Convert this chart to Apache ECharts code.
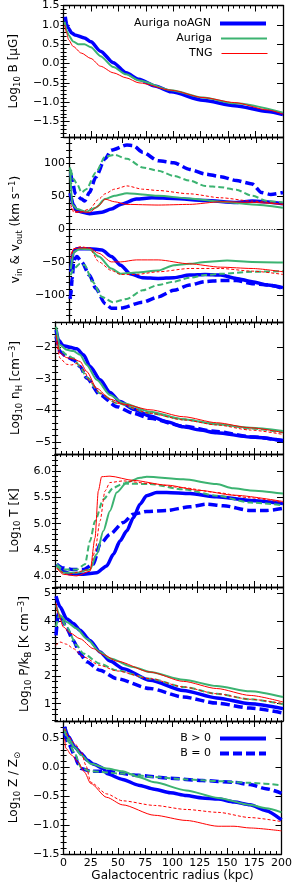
<!DOCTYPE html>
<html><head><meta charset="utf-8">
<script src="https://cdn.jsdelivr.net/npm/echarts@6/dist/echarts.min.js"></script>
<style>html,body{margin:0;padding:0;background:#fff}#c{width:295px;height:885px}</style>
</head><body><div id="c"></div>
<script>
// ---------- x axis ----------
const radiusTicks = [0, 25, 50, 75, 100, 125, 150, 175, 200];

// ---------- panel 1: magnetic field ----------
const bTicks = [-1.5, -1.0, -0.5, 0.0, 0.5, 1.0, 1.5];
const bNoAGN = [[1.5,1.21],[2.9,1.0],[4.4,0.91],[7.3,0.79],[10.2,0.74],[19,0.66],[24.9,0.56],[33.6,0.32],[45.3,0.02],[57,-0.24],[68.7,-0.41],[83.3,-0.58],[98,-0.73],[127,-0.95],[156,-1.09],[186,-1.24],[200,-1.32]];
const bAuriga = [[0.9,1.08],[2.9,0.85],[4.4,0.74],[8.8,0.57],[13.2,0.5],[19,0.5],[24.9,0.42],[33.6,0.19],[45.3,-0.09],[57,-0.28],[68.7,-0.44],[98,-0.69],[127,-0.88],[156,-1.03],[200,-1.27]];
const bTNG = [[0.9,1.0],[2.9,0.78],[4.4,0.62],[8.8,0.44],[16.1,0.27],[24.9,0.13],[33.6,-0.07],[45.3,-0.24],[57,-0.37],[68.7,-0.5],[98,-0.69],[127,-0.88],[156,-1.01],[186,-1.2],[200,-1.31]];

// ---------- panel 2: inflow / outflow velocities ----------
const vTicks = [-100, -50, 0, 50, 100];
const voutNoAGN = [[0.9,55],[1.5,50],[3.8,38],[7.3,28],[19,24],[30.7,26],[39.5,31],[48.2,38],[62.9,46],[77.5,48],[98,47],[127.2,44],[156.4,41],[171.1,43],[200,39]];
const voutNoAGN0 = [[1.5,85],[2.9,74],[5.8,54],[11.7,46],[14.6,43],[19,56],[24.9,79],[33.6,107],[39.5,120],[54.1,128],[59.9,127],[68.7,117],[83.3,104],[98,101],[112.6,91],[127.2,84],[141.8,80],[156.4,74],[171.1,69],[179.8,56],[188.6,53],[200,56]];
const voutAuriga = [[0.9,94],[2.9,38],[7.3,31],[16.1,27],[24.9,33],[33.6,46],[42.4,51],[54.1,55],[68.7,53],[83.3,51],[112.6,47],[141.8,42],[171.1,38],[200,33]];
const voutAuriga0 = [[1.5,91],[4.4,76],[7.3,69],[11.7,56],[16.1,61],[24.9,86],[33.6,110],[42.4,113],[54.1,107],[68.7,94],[83.3,89],[98,81],[112.6,74],[127.2,66],[141.8,64],[156.4,60],[171.1,51],[185.7,43],[200,41]];
const voutTNG = [[1.5,33],[7.3,27],[19,26],[27.8,36],[33.6,46],[42.4,42],[54.1,38],[83.3,37],[112.6,38],[141.8,42],[171.1,41],[200,38]];
const voutTNG0 = [[1.5,38],[4.4,26],[10.2,26],[19,31],[27.8,46],[33.6,54],[42.4,61],[54.1,66],[68.7,61],[83.3,59],[112.6,54],[141.8,48],[171.1,43],[200,38]];
const vinNoAGN = [[1.5,-64],[3.8,-34],[7.3,-29],[19,-29],[30.7,-31],[39.5,-41],[48.2,-54],[57,-67],[68.7,-73],[83.3,-74],[98,-73],[112.6,-69],[127.2,-68],[141.8,-69],[156.4,-74],[171.1,-79],[185.7,-84],[200,-88]];
const vinNoAGN0 = [[0.9,-105],[1.5,-100],[2.9,-74],[4.4,-46],[7.3,-41],[11.7,-49],[19,-69],[24.9,-89],[33.6,-112],[39.5,-119],[48.2,-119],[68.7,-110],[83.3,-102],[98,-92],[112.6,-84],[127.2,-79],[141.8,-77],[156.4,-77],[171.1,-82],[185.7,-84],[200,-89]];
const vinAuriga = [[1.5,-60],[4.4,-34],[10.2,-29],[19,-30],[27.8,-41],[39.5,-59],[48.2,-67],[62.9,-65],[83.3,-62],[98,-54],[112.6,-52],[127.2,-49],[147.7,-47],[171.1,-49],[200,-50]];
const vinAuriga0 = [[1.5,-69],[4.4,-59],[10.2,-52],[14.6,-54],[21.9,-79],[30.7,-102],[40.9,-110],[54.1,-105],[68.7,-92],[83.3,-84],[98,-79],[112.6,-73],[127.2,-69],[141.8,-67],[171.1,-64],[200,-63]];
const vinTNG = [[1.5,-39],[4.4,-29],[10.2,-28],[19,-28],[27.8,-36],[39.5,-49],[48.2,-49],[62.9,-46],[83.3,-46],[112.6,-52],[141.8,-57],[171.1,-59],[200,-64]];
const vinTNG0 = [[1.5,-44],[4.4,-29],[10.2,-26],[19,-28],[27.8,-49],[39.5,-62],[48.2,-68],[62.9,-68],[83.3,-64],[112.6,-59],[141.8,-59],[171.1,-63],[200,-68]];

// ---------- panel 3: density ----------
const nTicks = [-5, -4, -3, -2];
const nNoAGN = [[0.9,-1.45],[2.9,-1.77],[7.3,-1.95],[13.2,-2.0],[19,-2.05],[24.9,-2.24],[30.7,-2.61],[39.5,-3.03],[48.2,-3.43],[57,-3.72],[68.7,-3.96],[83.3,-4.18],[98,-4.36],[112.6,-4.52],[127.2,-4.62],[141.8,-4.71],[171.1,-4.84],[200,-4.95]];
const nNoAGN0 = [[0.9,-1.66],[4.4,-2.14],[10.2,-2.3],[16.1,-2.4],[21.9,-2.61],[27.8,-2.98],[39.5,-3.51],[54.1,-3.88],[68.7,-4.09],[83.3,-4.25],[112.6,-4.5],[141.8,-4.67],[171.1,-4.83],[200,-4.96]];
const nAuriga = [[0.9,-1.35],[4.4,-1.93],[10.2,-2.08],[16.1,-2.12],[21.9,-2.24],[27.8,-2.56],[36.5,-3.03],[48.2,-3.51],[59.9,-3.77],[83.3,-4.04],[112.6,-4.28],[141.8,-4.44],[171.1,-4.55],[200,-4.65]];
const nAuriga0 = [[0.9,-1.61],[4.4,-2.08],[10.2,-2.24],[16.1,-2.35],[21.9,-2.61],[27.8,-2.96],[39.5,-3.46],[54.1,-3.77],[83.3,-4.09],[112.6,-4.28],[141.8,-4.43],[171.1,-4.57],[200,-4.7]];
const nTNG = [[0.9,-1.61],[4.4,-2.19],[10.2,-2.33],[16.1,-2.37],[21.9,-2.45],[27.8,-2.77],[36.5,-3.3],[48.2,-3.64],[59.9,-3.8],[83.3,-3.98],[112.6,-4.2],[141.8,-4.39],[171.1,-4.55],[200,-4.7]];
const nTNG0 = [[0.9,-1.82],[4.4,-2.35],[10.2,-2.54],[14.6,-2.56],[19,-2.51],[24.9,-2.72],[30.7,-3.09],[39.5,-3.46],[54.1,-3.77],[83.3,-4.09],[112.6,-4.3],[141.8,-4.46],[171.1,-4.62],[200,-4.76]];

// ---------- panel 4: temperature ----------
const tTicks = [4.0, 4.5, 5.0, 5.5, 6.0];
const tNoAGN = [[1.5,4.23],[7.3,4.1],[13.2,4.05],[24.9,4.04],[36.5,4.07],[45.3,4.2],[51.2,4.42],[57,4.67],[62.9,4.86],[68.7,5.11],[74.6,5.37],[80.4,5.53],[89.2,5.59],[98,5.59],[118.4,5.57],[141.8,5.51],[171.1,5.44],[200,5.38]];
const tNoAGN0 = [[1.5,4.23],[7.3,4.16],[16.1,4.13],[24.9,4.13],[33.6,4.23],[39.5,4.61],[48.2,4.8],[59.9,5.02],[68.7,5.18],[80.4,5.23],[98,5.25],[118.4,5.32],[133,5.37],[147.7,5.34],[171.1,5.25],[185.7,5.25],[200,5.29]];
const tAuriga = [[1.5,4.2],[7.3,4.07],[19,4.07],[30.7,4.13],[36.5,4.42],[42.4,4.86],[48.2,5.24],[54.1,5.59],[62.9,5.78],[74.6,5.87],[80.4,5.89],[112.6,5.84],[141.8,5.75],[156.4,5.67],[171.1,5.63],[200,5.57]];
const tAuriga0 = [[1.5,4.23],[7.3,4.13],[19,4.13],[26.3,4.23],[30.7,4.67],[35.1,5.05],[42.4,5.46],[51.2,5.68],[59.9,5.76],[83.3,5.75],[112.6,5.65],[141.8,5.53],[171.1,5.4],[200,5.35]];
const tTNG = [[1.5,4.16],[7.3,4.04],[19,4.01],[30.7,4.1],[35.1,4.73],[38,5.62],[40.9,5.89],[48.2,5.9],[68.7,5.82],[98,5.73],[127.2,5.63],[156.4,5.54],[200,5.42]];
const tTNG0 = [[1.5,4.16],[10.2,4.04],[30.7,4.13],[35.1,4.48],[39.5,5.05],[43.9,5.62],[48.2,5.78],[59.9,5.81],[83.3,5.76],[112.6,5.68],[141.8,5.59],[171.1,5.49],[200,5.4]];

// ---------- panel 5: pressure ----------
const pTicks = [1, 2, 3, 4, 5];
const pNoAGN = [[0.9,4.9],[4.4,4.52],[10.2,4.09],[16.1,3.91],[21.9,3.67],[30.7,3.3],[39.5,2.88],[48.2,2.55],[59.9,2.27],[83.3,1.85],[112.6,1.48],[141.8,1.21],[171.1,1.0],[200,0.82]];
const pNoAGN0 = [[0.9,3.48],[2.9,4.27],[5.8,4.09],[10.2,3.73],[16.1,3.3],[21.9,2.82],[27.8,2.52],[39.5,2.21],[54.1,1.91],[83.3,1.55],[112.6,1.24],[141.8,1.02],[171.1,0.84],[200,0.66]];
const pAuriga = [[0.9,4.58],[4.4,4.21],[10.2,3.97],[19,3.73],[27.8,3.36],[39.5,2.88],[48.2,2.64],[68.7,2.33],[83.3,2.15],[112.6,1.87],[141.8,1.64],[171.1,1.45],[200,1.24]];
const pAuriga0 = [[0.9,3.79],[3.8,4.21],[10.2,3.79],[19,3.12],[24.9,2.82],[39.5,2.45],[54.1,2.21],[83.3,1.91],[112.6,1.61],[141.8,1.36],[171.1,1.16],[200,0.98]];
const pTNG = [[0.9,4.64],[2.9,4.27],[7.3,3.79],[13.2,3.57],[21.9,3.36],[33.6,3.0],[42.4,2.78],[54.1,2.55],[83.3,2.15],[112.6,1.81],[141.8,1.55],[171.1,1.3],[200,1.06]];
const pTNG0 = [[0.9,3.12],[4.4,3.24],[10.2,3.16],[16.1,3.0],[24.9,2.7],[39.5,2.39],[54.1,2.19],[83.3,1.91],[112.6,1.61],[141.8,1.36],[171.1,1.16],[200,1.0]];

// ---------- panel 6: metallicity ----------
const zTicks = [-1.5, -1.0, -0.5, 0.0, 0.5];
const zNoAGN = [[0.9,0.7],[4.4,0.53],[10.2,0.35],[16.1,0.24],[21.9,0.12],[27.8,0.05],[36.5,-0.02],[39.5,-0.11],[54.1,-0.21],[68.7,-0.31],[83.3,-0.38],[98,-0.44],[112.6,-0.49],[127.2,-0.53],[141.8,-0.55],[156.4,-0.6],[171.1,-0.65],[185.7,-0.75],[200,-0.91]];
const zNoAGN0 = [[0.9,0.59],[4.4,0.41],[10.2,0.21],[13.2,0.06],[16.1,-0.02],[24.9,-0.07],[39.5,-0.07],[68.7,-0.14],[98,-0.19],[127.2,-0.23],[156.4,-0.26],[171.1,-0.3],[185.7,-0.37],[200,-0.45]];
const zAuriga = [[0.9,0.67],[4.4,0.5],[10.2,0.34],[16.1,0.21],[24.9,0.06],[39.5,-0.02],[54.1,-0.07],[68.7,-0.17],[83.3,-0.26],[112.6,-0.4],[141.8,-0.53],[171.1,-0.65],[185.7,-0.71],[200,-0.78]];
const zAuriga0 = [[0.9,0.64],[4.4,0.44],[10.2,0.24],[16.1,-0.01],[24.9,-0.07],[54.1,-0.11],[83.3,-0.17],[112.6,-0.21],[141.8,-0.24],[171.1,-0.27],[200,-0.31]];
const zTNG = [[0.9,0.5],[2,0.33],[7.3,0.21],[13.2,0.09],[19,-0.08],[24.9,-0.28],[39.5,-0.52],[54.1,-0.65],[83.3,-0.83],[112.6,-0.92],[141.8,-1.02],[156.4,-1.02],[171.1,-1.05],[200,-1.1]];
const zTNG0 = [[0.9,0.67],[4.4,0.53],[10.2,0.41],[16.1,0.27],[20.5,0.03],[24.9,-0.26],[39.5,-0.46],[54.1,-0.58],[83.3,-0.66],[112.6,-0.73],[141.8,-0.78],[171.1,-0.87],[200,-0.94]];

// ---------- layout / styling ----------
const FONT = 'DejaVu Sans';
const panels = [
  {top:5,   height:132, min:-1.9,  max:1.5,  ticks:bTicks, minor:0.1, dec:1, nameGap:36,
   name:'{m|Log}{s|10}{m| B [μG]}'},
  {top:137, height:185, min:-140,  max:140,  ticks:vTicks, minor:10,  dec:0, nameGap:40,
   name:'{m|v}{s|in}{m| & v}{s|out}{m| (km s}{p|−1}{m|)}'},
  {top:322, height:132, min:-5.38, max:-1.2, ticks:nTicks, minor:0.2, dec:0, nameGap:26,
   name:'{m|Log}{s|10}{m| n}{s|H}{m| [cm}{p|−3}{m|]}'},
  {top:454, height:133, min:3.8,   max:6.32, ticks:tTicks, minor:0.1, dec:1, nameGap:26,
   name:'{m|Log}{s|10}{m| T [K]}'},
  {top:587, height:134, min:0.37,  max:5.24, ticks:pTicks, minor:0.2, dec:0, nameGap:16,
   name:'{m|Log}{s|10}{m| P/k}{s|B}{m| [K cm}{p|−3}{m|]}'},
  {top:721, height:133, min:-1.5,  max:0.8,  ticks:zTicks, minor:0.1, dec:1, nameGap:36,
   name:'{m|Log}{s|10}{m| Z / Z}{s|⊙}'}
];
const COL = {noagn:'#0000ff', auriga:'#3cb371', tng:'#ff0000'};
const WID = {noagn:3.5, auriga:2, tng:1};
const DASH = {noagn:[9,4], auriga:[6,3], tng:[3,2]};

const seriesDefs = [
  // panel, data, model, dashed, name
  [0, bNoAGN, 'noagn', false, 'Auriga noAGN'],
  [0, bAuriga, 'auriga', false, 'Auriga'],
  [0, bTNG, 'tng', false, 'TNG'],
  [1, voutNoAGN, 'noagn', false], [1, voutNoAGN0, 'noagn', true],
  [1, vinNoAGN, 'noagn', false], [1, vinNoAGN0, 'noagn', true],
  [1, voutAuriga, 'auriga', false], [1, voutAuriga0, 'auriga', true],
  [1, vinAuriga, 'auriga', false], [1, vinAuriga0, 'auriga', true],
  [1, voutTNG, 'tng', false], [1, voutTNG0, 'tng', true],
  [1, vinTNG, 'tng', false], [1, vinTNG0, 'tng', true],
  [2, nNoAGN, 'noagn', false], [2, nNoAGN0, 'noagn', true],
  [2, nAuriga, 'auriga', false], [2, nAuriga0, 'auriga', true],
  [2, nTNG, 'tng', false], [2, nTNG0, 'tng', true],
  [3, tNoAGN, 'noagn', false], [3, tNoAGN0, 'noagn', true],
  [3, tAuriga, 'auriga', false], [3, tAuriga0, 'auriga', true],
  [3, tTNG, 'tng', false], [3, tTNG0, 'tng', true],
  [4, pNoAGN, 'noagn', false], [4, pNoAGN0, 'noagn', true],
  [4, pAuriga, 'auriga', false], [4, pAuriga0, 'auriga', true],
  [4, pTNG, 'tng', false], [4, pTNG0, 'tng', true],
  [5, zNoAGN, 'noagn', false, 'B > 0'], [5, zNoAGN0, 'noagn', true, 'B = 0'],
  [5, zAuriga, 'auriga', false], [5, zAuriga0, 'auriga', true],
  [5, zTNG, 'tng', false], [5, zTNG0, 'tng', true]
];

function fmt(v, dec) {
  const s = Number(v).toFixed(dec);
  return s.replace('-', '\u2212');
}
function minorList(p) {
  const out = [];
  const n = Math.round((p.max - p.min) / p.minor) + 2;
  const start = Math.ceil(p.min / p.minor - 1e-6);
  for (let k = start; k <= start + n; k++) {
    const v = +(k * p.minor).toFixed(4);
    if (v >= p.min - 1e-9 && v <= p.max + 1e-9) out.push(v);
  }
  return out;
}

const grids = [], xAxes = [], yAxes = [];
const axisLineStyle = {color:'#000', width:1.3};
panels.forEach((p, i) => {
  grids.push({left:55, right:12, top:p.top, height:p.height});
  const last = i === panels.length - 1;
  ['bottom', 'top'].forEach(pos => {
    xAxes.push({
      gridIndex:i, type:'value', min:0, max:200, interval:25, position:pos,
      axisLine:{show:true, onZero:false, lineStyle:axisLineStyle},
      axisTick:{show:true, inside:true, length:6, lineStyle:{color:'#000', width:1}},
      minorTick:{show:true, splitNumber:5, length:3, lineStyle:{color:'#000', width:1}},
      splitLine:{show:false}, minorSplitLine:{show:false},
      axisLabel:{show: last && pos === 'bottom', margin:4, fontSize:11, color:'#000', fontFamily:FONT,
        customValues: radiusTicks},
      name: (last && pos === 'bottom') ? 'Galactocentric radius (kpc)' : '',
      nameLocation:'middle', nameGap:16,
      nameTextStyle:{fontSize:12, color:'#000', fontFamily:FONT}
    });
  });
  const minors = minorList(p);
  ['left', 'right'].forEach(pos => {
    yAxes.push({
      gridIndex:i, type:'value', min:p.min, max:p.max, position:pos,
      axisLine:{show:true, onZero:false, lineStyle:axisLineStyle},
      axisTick:{show:true, inside:true, length:6, customValues:p.ticks, lineStyle:{color:'#000', width:1}},
      splitLine:{show:false},
      axisLabel:{show: pos === 'left', customValues:p.ticks, margin:4, fontSize:11, color:'#000',
        fontFamily:FONT, formatter: v => fmt(v, p.dec)},
      name: pos === 'left' ? p.name : '',
      nameLocation:'middle', nameRotate:90, nameGap:p.nameGap,
      nameTextStyle:{color:'#000', fontFamily:FONT, rich:{
        m:{fontSize:12, lineHeight:16, fontFamily:FONT, color:'#000'},
        s:{fontSize:8.5, lineHeight:8.5, verticalAlign:'bottom', fontFamily:FONT, color:'#000'},
        p:{fontSize:8.5, lineHeight:8.5, verticalAlign:'top', fontFamily:FONT, color:'#000'}
      }}
    });
    yAxes.push({
      gridIndex:i, type:'value', min:p.min, max:p.max, position:pos,
      axisLine:{show:false},
      axisTick:{show:true, inside:true, length:3, customValues:minors, lineStyle:{color:'#000', width:1}},
      splitLine:{show:false}, axisLabel:{show:false}
    });
  });
});

const series = seriesDefs.map((d, k) => {
  const [pi, data, model, dashed, name] = d;
  return {
    type:'line', name: name || ('s' + k), data: data,
    xAxisIndex: pi * 2, yAxisIndex: pi * 4,
    symbol:'none', silent:true, animation:false,
    smooth:0.25, smoothMonotone:'x',
    z: model === 'noagn' ? 2 : (model === 'auriga' ? 3 : 4),
    lineStyle:{color:COL[model], width:WID[model], type: dashed ? DASH[model] : 'solid'},
    itemStyle:{color:COL[model]}
  };
});
// dotted zero line in the velocity panel
series.push({
  type:'line', name:'zero', data:[[0,0],[200,0]], xAxisIndex:2, yAxisIndex:4,
  symbol:'none', silent:true, animation:false, z:1,
  lineStyle:{color:'#000', width:1, type:[1,1.5]}
});

function leg(name, model, dashed, top, right) {
  return {
    data:[name], orient:'vertical', align:'right', right:right, top:top, padding:0,
    itemWidth:46, itemHeight:12, selectedMode:false,
    itemStyle:{color:'rgba(0,0,0,0)', borderColor:'rgba(0,0,0,0)', borderWidth:0, opacity:0},
    lineStyle:{width: model === 'noagn' ? 4 : WID[model], color:COL[model],
      type: dashed ? DASH[model] : 'solid'},
    textStyle:{fontSize:11, color:'#000', fontFamily:FONT, padding:[0,4,0,0]}
  };
}

const option = {
  backgroundColor:'#fff',
  animation:false,
  textStyle:{fontFamily:FONT},
  grid: grids, xAxis: xAxes, yAxis: yAxes, series: series,
  legend: [
    leg('Auriga noAGN', 'noagn', false, 18, 27), leg('Auriga', 'auriga', false, 33, 27),
    leg('TNG', 'tng', false, 48, 27),
    leg('B > 0', 'noagn', false, 733, 27), leg('B = 0', 'noagn', true, 748, 27)
  ]
};
const chart = echarts.init(document.getElementById('c'), null, {renderer:'canvas'});
chart.setOption(option);
</script></body></html>
